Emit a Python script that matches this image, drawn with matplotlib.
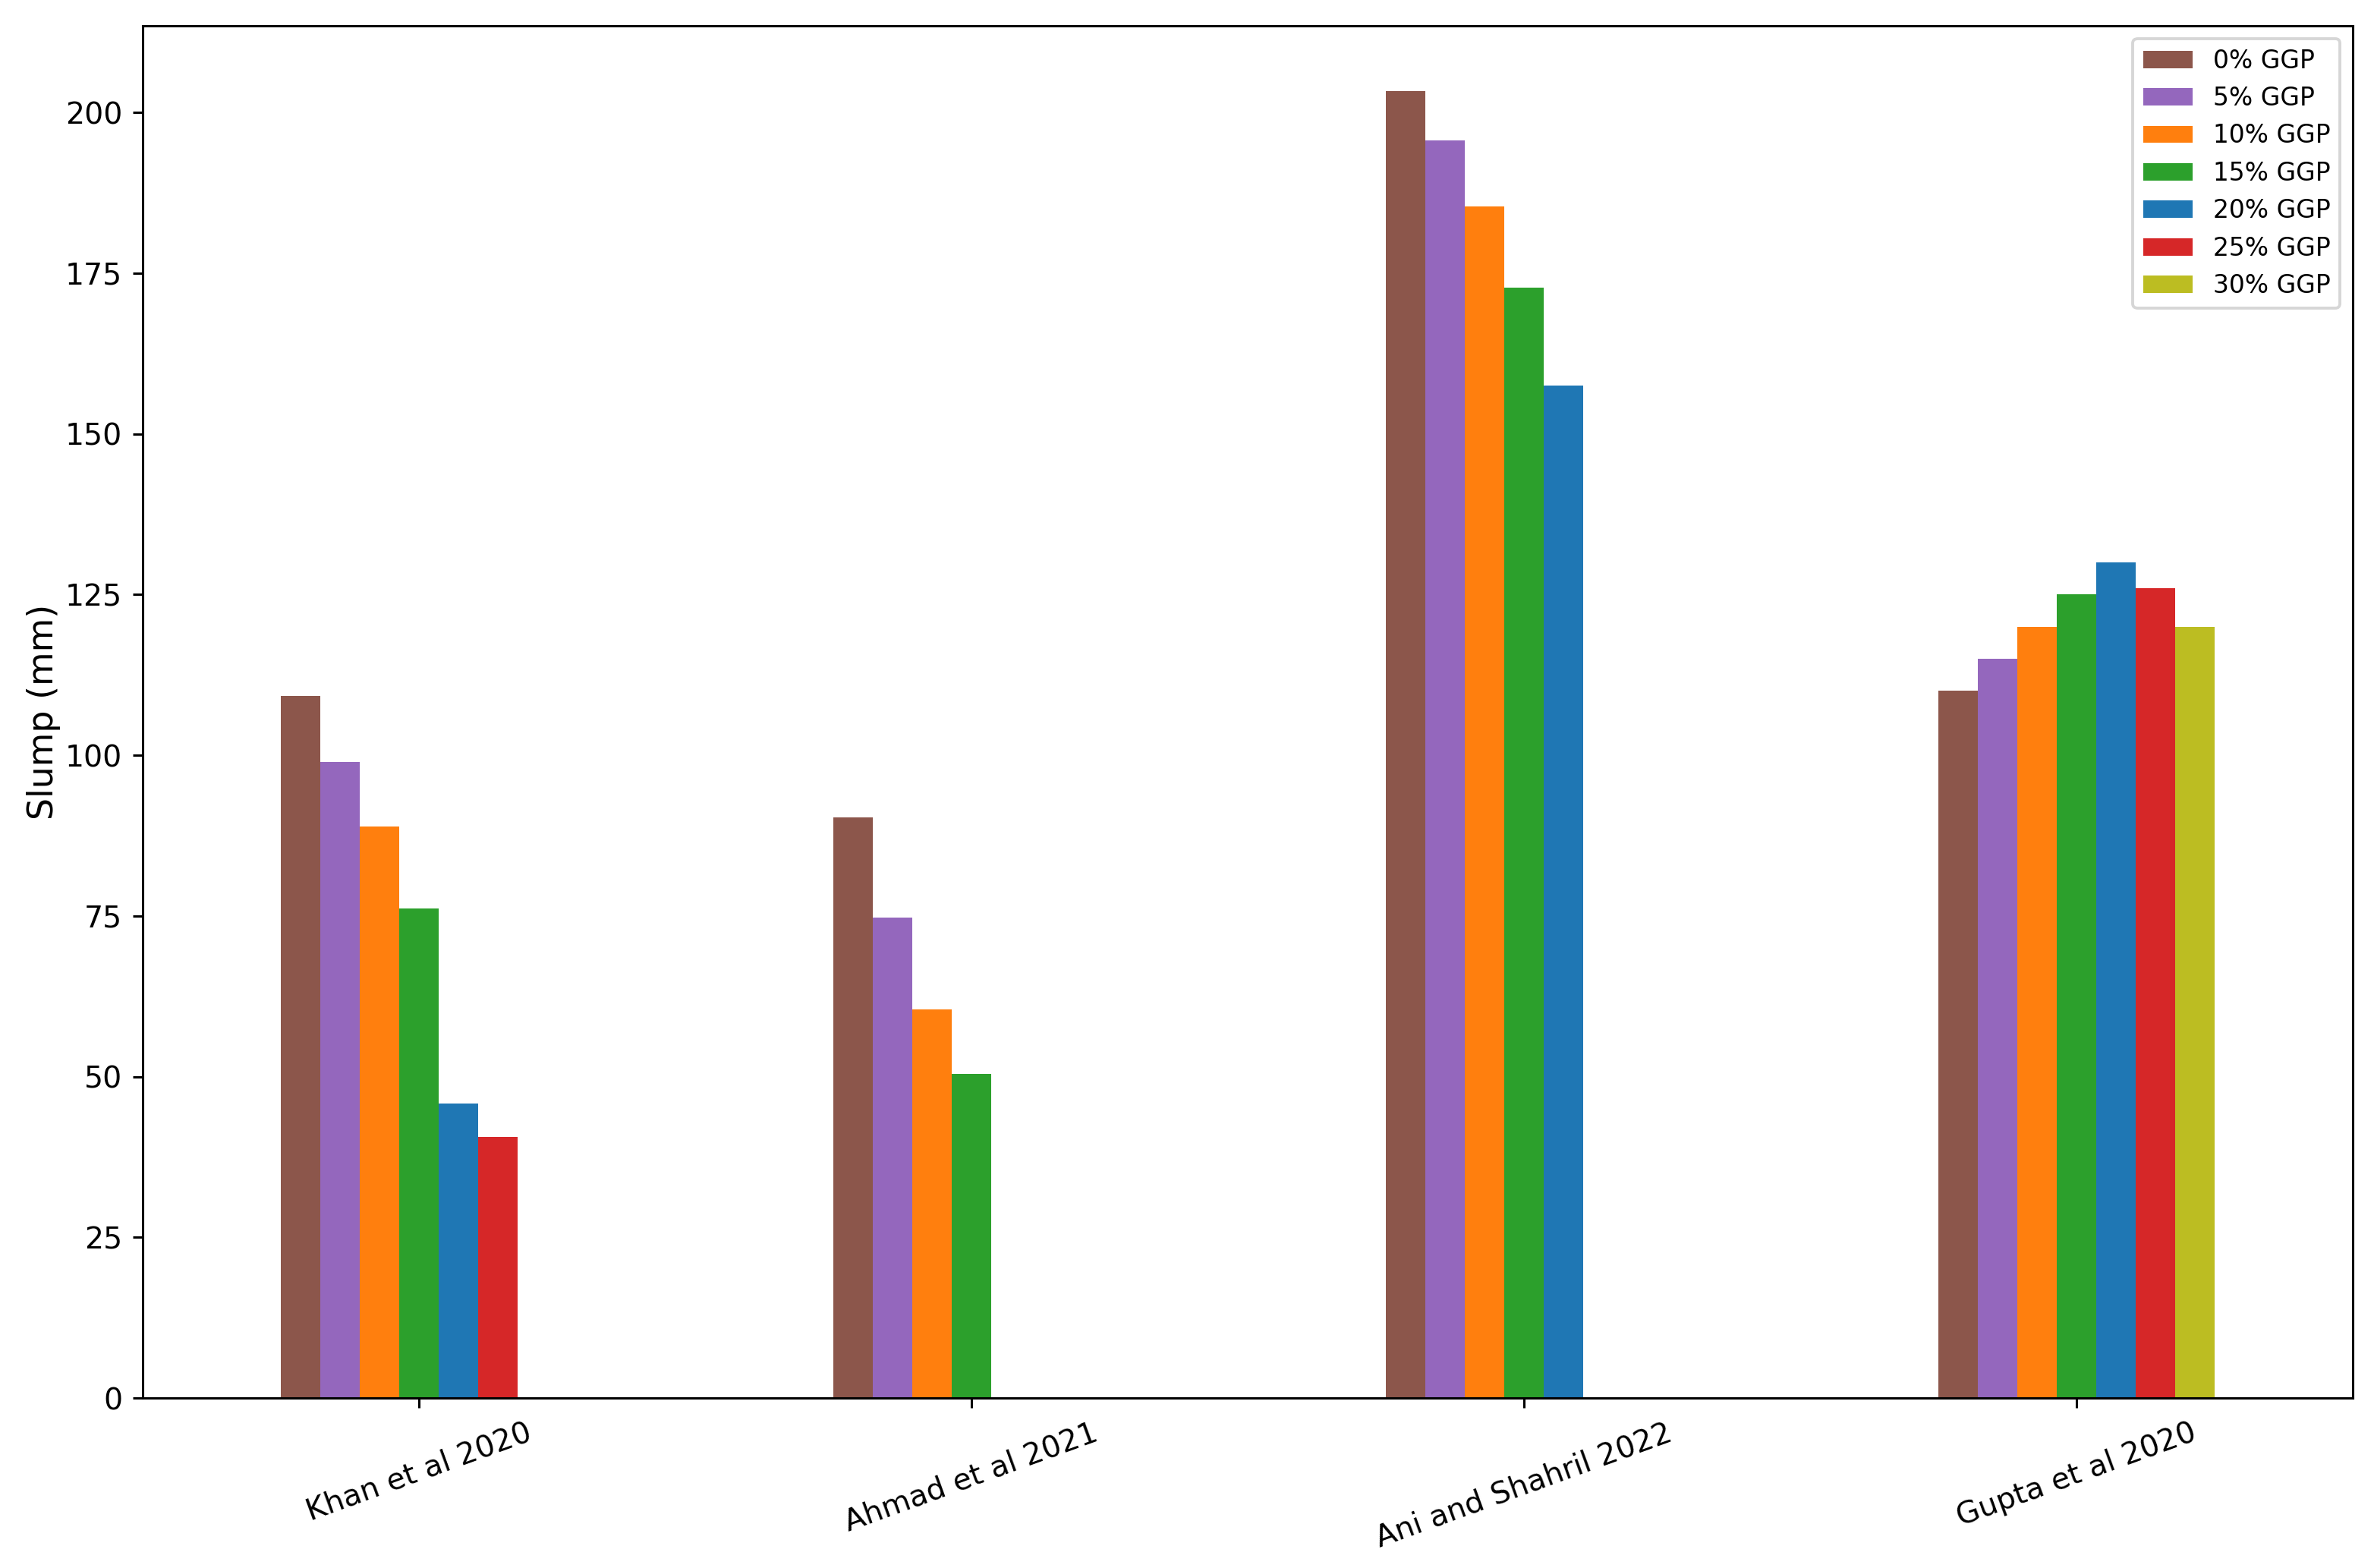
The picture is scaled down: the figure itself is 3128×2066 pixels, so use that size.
import numpy as np
import matplotlib
matplotlib.use("Agg")
import matplotlib.pyplot as plt

# studies on the x axis
studies = ["Khan et al 2020", "Ahmad et al 2021", "Ani and Shahril 2022", "Gupta et al 2020"]

# slump (mm) for each GGP replacement level, nan where a study did not test it
ggp_0 = [109.2, 90.3, 203.3, 110.0]
ggp_5 = [99.0, 74.7, 195.6, 115.0]
ggp_10 = [88.9, 60.4, 185.4, 120.0]
ggp_15 = [76.2, 50.4, 172.7, 125.0]
ggp_20 = [45.8, np.nan, 157.5, 130.0]
ggp_25 = [40.6, np.nan, np.nan, 126.0]
ggp_30 = [np.nan, np.nan, np.nan, 120.0]

labels = ["0% GGP", "5% GGP", "10% GGP", "15% GGP", "20% GGP", "25% GGP", "30% GGP"]
colors = ["tab:brown", "tab:purple", "tab:orange", "tab:green", "tab:blue", "tab:red", "tab:olive"]

series = [ggp_0, ggp_5, ggp_10, ggp_15, ggp_20, ggp_25, ggp_30]

fig, ax = plt.subplots(figsize=(3128 / 275, 2066 / 275), dpi=275)
fig.subplots_adjust(left=0.0601, right=0.991, top=0.9835, bottom=0.1084)

x = np.arange(len(studies))
n = len(series)
w = 0.5 / n
for i, (vals, lab, col) in enumerate(zip(series, labels, colors)):
    ax.bar(x + (i - (n - 1) / 2) * w, vals, width=w, color=col, label=lab)

ax.set_xlim(-0.5, len(studies) - 0.5)
ax.set_xticks(x)
ax.set_xticklabels(studies, rotation=20)
ax.tick_params(labelsize=10.3)
ax.set_ylabel("Slump (mm)", fontsize=12, labelpad=1.5)
ax.legend(loc="upper right", fontsize=8.6)

fig.savefig("out.png", dpi=275)
